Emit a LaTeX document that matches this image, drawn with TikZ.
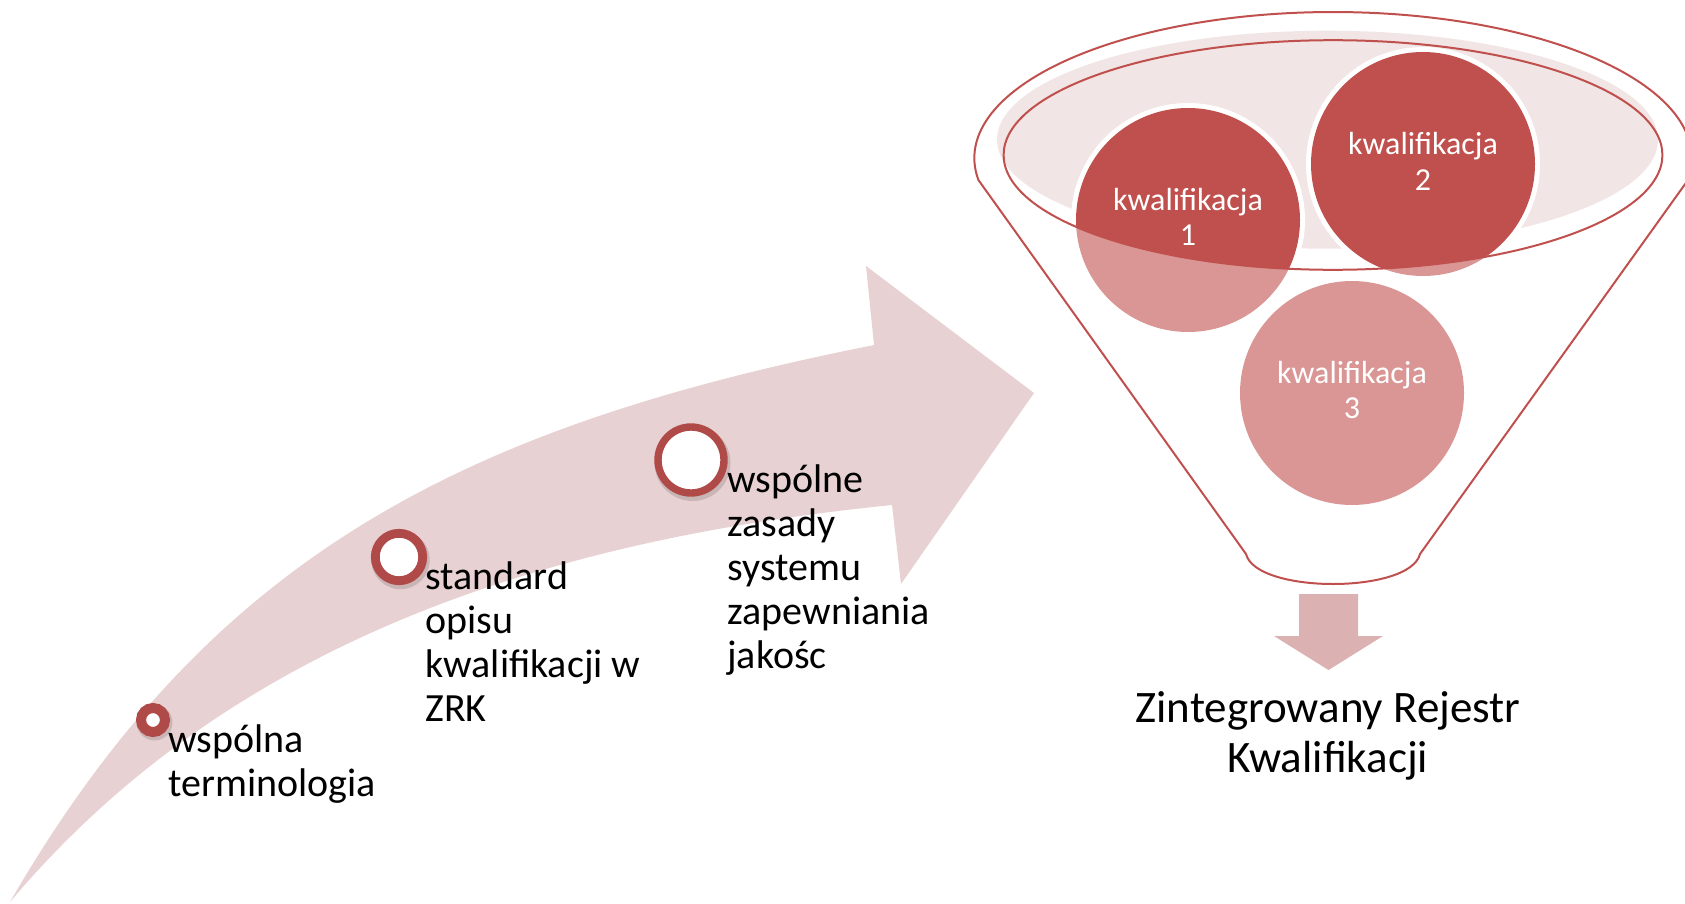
\documentclass[tikz,border=0pt]{standalone}
\usepackage{fontspec}
\setmainfont{Carlito}
\definecolor{arrowpink}{HTML}{E8D1D2}
\definecolor{ringred}{HTML}{AF4A48}
\definecolor{darkred}{HTML}{C0504D}
\definecolor{lightred}{HTML}{D99694}
\definecolor{rimfill}{HTML}{F2E5E5}
\definecolor{downpink}{HTML}{DBB1B1}
\tikzset{
  ringnode/.style={circle, draw=ringred, fill=white, inner sep=0pt},
  ringshadow/.style={fill=black, opacity=0.13},
  steplabel/.style={anchor=base west, inner sep=0pt, font=\fontsize{20pt}{22pt}\selectfont},
  qlabel/.style={anchor=base, inner sep=0pt, text=white, font=\fontsize{16pt}{17.5pt}\selectfont},
  funnelline/.style={draw=darkred, line width=1pt},
}
\begin{document}
\begin{tikzpicture}[x=0.5pt,y=-0.5pt]
\useasboundingbox (0,0) rectangle (1685,904);

% big curved arrow
\fill[arrowpink]
  (10,902) .. controls (210,556) and (462,427) .. (874,345)
  -- (866,266) -- (1034,393) -- (901,584) -- (892,505)
  .. controls (544,540) and (229,642) .. (10,902)
  -- cycle;

% ring shadows
\fill[ringshadow] (154.5,722.5) circle[radius=9pt];
\fill[ringshadow] (400.5,560) circle[radius=14.6pt];
\fill[ringshadow] (692.5,463) circle[radius=19pt];

% rings
\node[ringnode, line width=5pt, minimum size=12pt] (ring1) at (153,720) {};
\node[ringnode, line width=4.4pt, minimum size=23.7pt] (ring2) at (399,557) {};
\node[ringnode, line width=3.7pt, minimum size=33pt] (ring3) at (691,460) {};

% step labels
\node[steplabel] (lab1) at (168,752) {\begin{tabular}[t]{@{}l@{}}wspólna\\terminologia\end{tabular}};
\node[steplabel] (lab2) at (425,589) {\begin{tabular}[t]{@{}l@{}}standard\\opisu\\kwalifikacji w\\ZRK\end{tabular}};
\node[steplabel] (lab3) at (727,492) {\begin{tabular}[t]{@{}l@{}}wspólne\\zasady\\systemu\\zapewniania\\jakośc\end{tabular}};

% funnel rim fill
\fill[rimfill] (1327.5,139.7) ellipse[x radius=165.25pt, y radius=54.5pt];

% circles, lower (seen through) parts
\fill[lightred] (1188,220) circle[radius=56pt];
\fill[lightred] (1423,164) circle[radius=56pt];
\fill[lightred] (1352,393) circle[radius=56pt];

% circles, parts inside the opening
\begin{scope}
  \clip (1333,155) ellipse[x radius=164.7pt, y radius=57.4pt];
  \fill[white] (1188,220) circle[radius=58.5pt];
  \fill[white] (1423,164) circle[radius=58.5pt];
  \fill[darkred] (1188,220) circle[radius=56pt];
  \fill[darkred] (1423,164) circle[radius=56pt];
\end{scope}

% inner opening outline
\draw[funnelline] (1333,155) ellipse[x radius=164.7pt, y radius=57.4pt];

% funnel outline
\draw[funnelline, line join=round]
  (1420,554) -- (1688,180)
  -- plot[domain=-8.67:188.67, samples=120] ({1333+358.7*cos(\x)}, {158-146*sin(\x)})
  -- (1246,554) .. controls (1256,594) and (1410,594) .. (1420,554) -- cycle;

% circle labels
\node[qlabel] (q1) at (1188,210) {\begin{tabular}[t]{@{}c@{}}kwalifikacja\\1\end{tabular}};
\node[qlabel] (q2) at (1423,155) {\begin{tabular}[t]{@{}c@{}}kwalifikacja\\2\end{tabular}};
\node[qlabel] (q3) at (1352,383) {\begin{tabular}[t]{@{}c@{}}kwalifikacja\\3\end{tabular}};

% down arrow
\fill[downpink] (1299,594) -- (1358,594) -- (1358,636) -- (1383,636) -- (1328.5,670) -- (1274,636) -- (1299,636) -- cycle;

% result label
\node[anchor=base, inner sep=0pt, font=\fontsize{22.5pt}{25pt}\selectfont] (zrk) at (1328,722)
  {\begin{tabular}[t]{@{}c@{}}Zintegrowany Rejestr\\Kwalifikacji\end{tabular}};
\end{tikzpicture}
\end{document}
